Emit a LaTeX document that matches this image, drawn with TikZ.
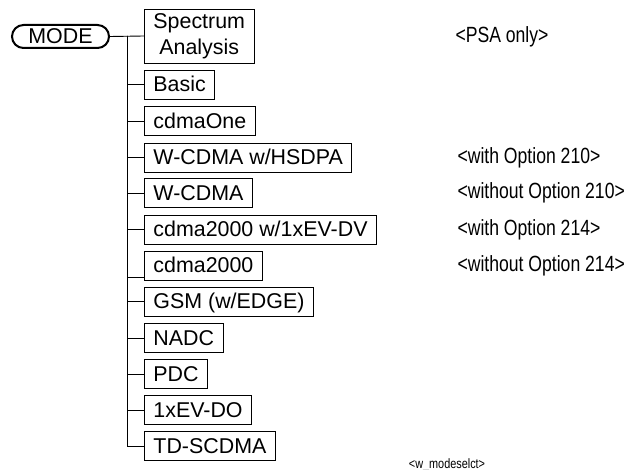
\documentclass[tikz,border=0pt]{standalone}
\usepackage{fontspec}
\setmainfont{Liberation Sans}
\newfontfamily\narrowfont[FakeStretch=0.8]{Liberation Sans}
\usetikzlibrary{positioning}

\begin{document}
\begin{tikzpicture}[x=1bp,y=-1bp,every node/.style={font=\fontsize{21.4bp}{25bp}\selectfont},modebox/.style={draw,line width=2bp,rounded corners=11.5bp,minimum width=97bp,minimum height=23bp,inner sep=0pt,text height=15bp,text depth=1bp},keybox/.style={draw,line width=0.9bp,anchor=west,minimum height=29bp,inner xsep=9bp,inner ysep=0pt,text height=16bp,text depth=1.6bp},note/.style={anchor=west,font=\narrowfont\fontsize{22bp}{25bp}\selectfont},tag/.style={font=\narrowfont\fontsize{13.6bp}{16bp}\selectfont},branch/.style={line width=0.9bp}]
\useasboundingbox[fill=white] (0,0) rectangle (626,470);

% key and its menu
\node[modebox] (mode) at (60.5,36.5) {MODE};
\node[keybox,minimum height=54bp,text height={},text depth={},align=center,font=\fontsize{21.4bp}{26bp}\selectfont] (spec) at (144,36) {Spectrum\\Analysis};
\node[keybox] (basic) at (144,84.5) {Basic}; \node[keybox] (cdmaone) at (144,121) {cdmaOne};
\node[keybox] (hsdpa) at (144,157.5) {W-CDMA w/HSDPA}; \node[keybox] (wcdma) at (144,193) {W-CDMA};
\node[keybox] (evdv) at (144,229.5) {cdma2000 w/1xEV-DV}; \node[keybox] (cdmatwok) at (144,265.5) {cdma2000};
\node[keybox] (gsm) at (144,301.5) {GSM (w/EDGE)}; \node[keybox] (nadc) at (144,338) {NADC};
\node[keybox] (pdc) at (144,374) {PDC}; \node[keybox] (evdo) at (144,410) {1xEV-DO};
\node[keybox] (tdscdma) at (144,446) {TD-SCDMA};

% connectors
\coordinate (trunk) at (127,36);
\draw[branch] (mode.east) -- (spec.west);
\draw[branch] (trunk) |- (basic.west); \draw[branch] (trunk) |- (cdmaone.west); \draw[branch] (trunk) |- (hsdpa.west);
\draw[branch] (trunk) |- (wcdma.west); \draw[branch] (trunk) |- (evdv.west); \draw[branch] (trunk) |- ([yshift=-11.5bp]cdmatwok.west);
\draw[branch] (trunk) |- (gsm.west); \draw[branch] (trunk) |- (nadc.west); \draw[branch] (trunk) |- (pdc.west);
\draw[branch] (trunk) |- (evdo.west); \draw[branch] (trunk) |- (tdscdma.west);

% option notes
\node[note] (psanote) at (452,37) {<PSA only>};
\node[note] (hsdpanote) at (454,158) {<with Option 210>};
\node[note] (wcdmanote) at (454,193) {<without Option 210>};
\node[note] (evdvnote) at (454,229.5) {<with Option 214>};
\node[note] (cdmanote) at (454,265.5) {<without Option 214>};
\node[tag] (figtag) at (447,465) {<w\_modeselct>};

\end{tikzpicture}
\end{document}
